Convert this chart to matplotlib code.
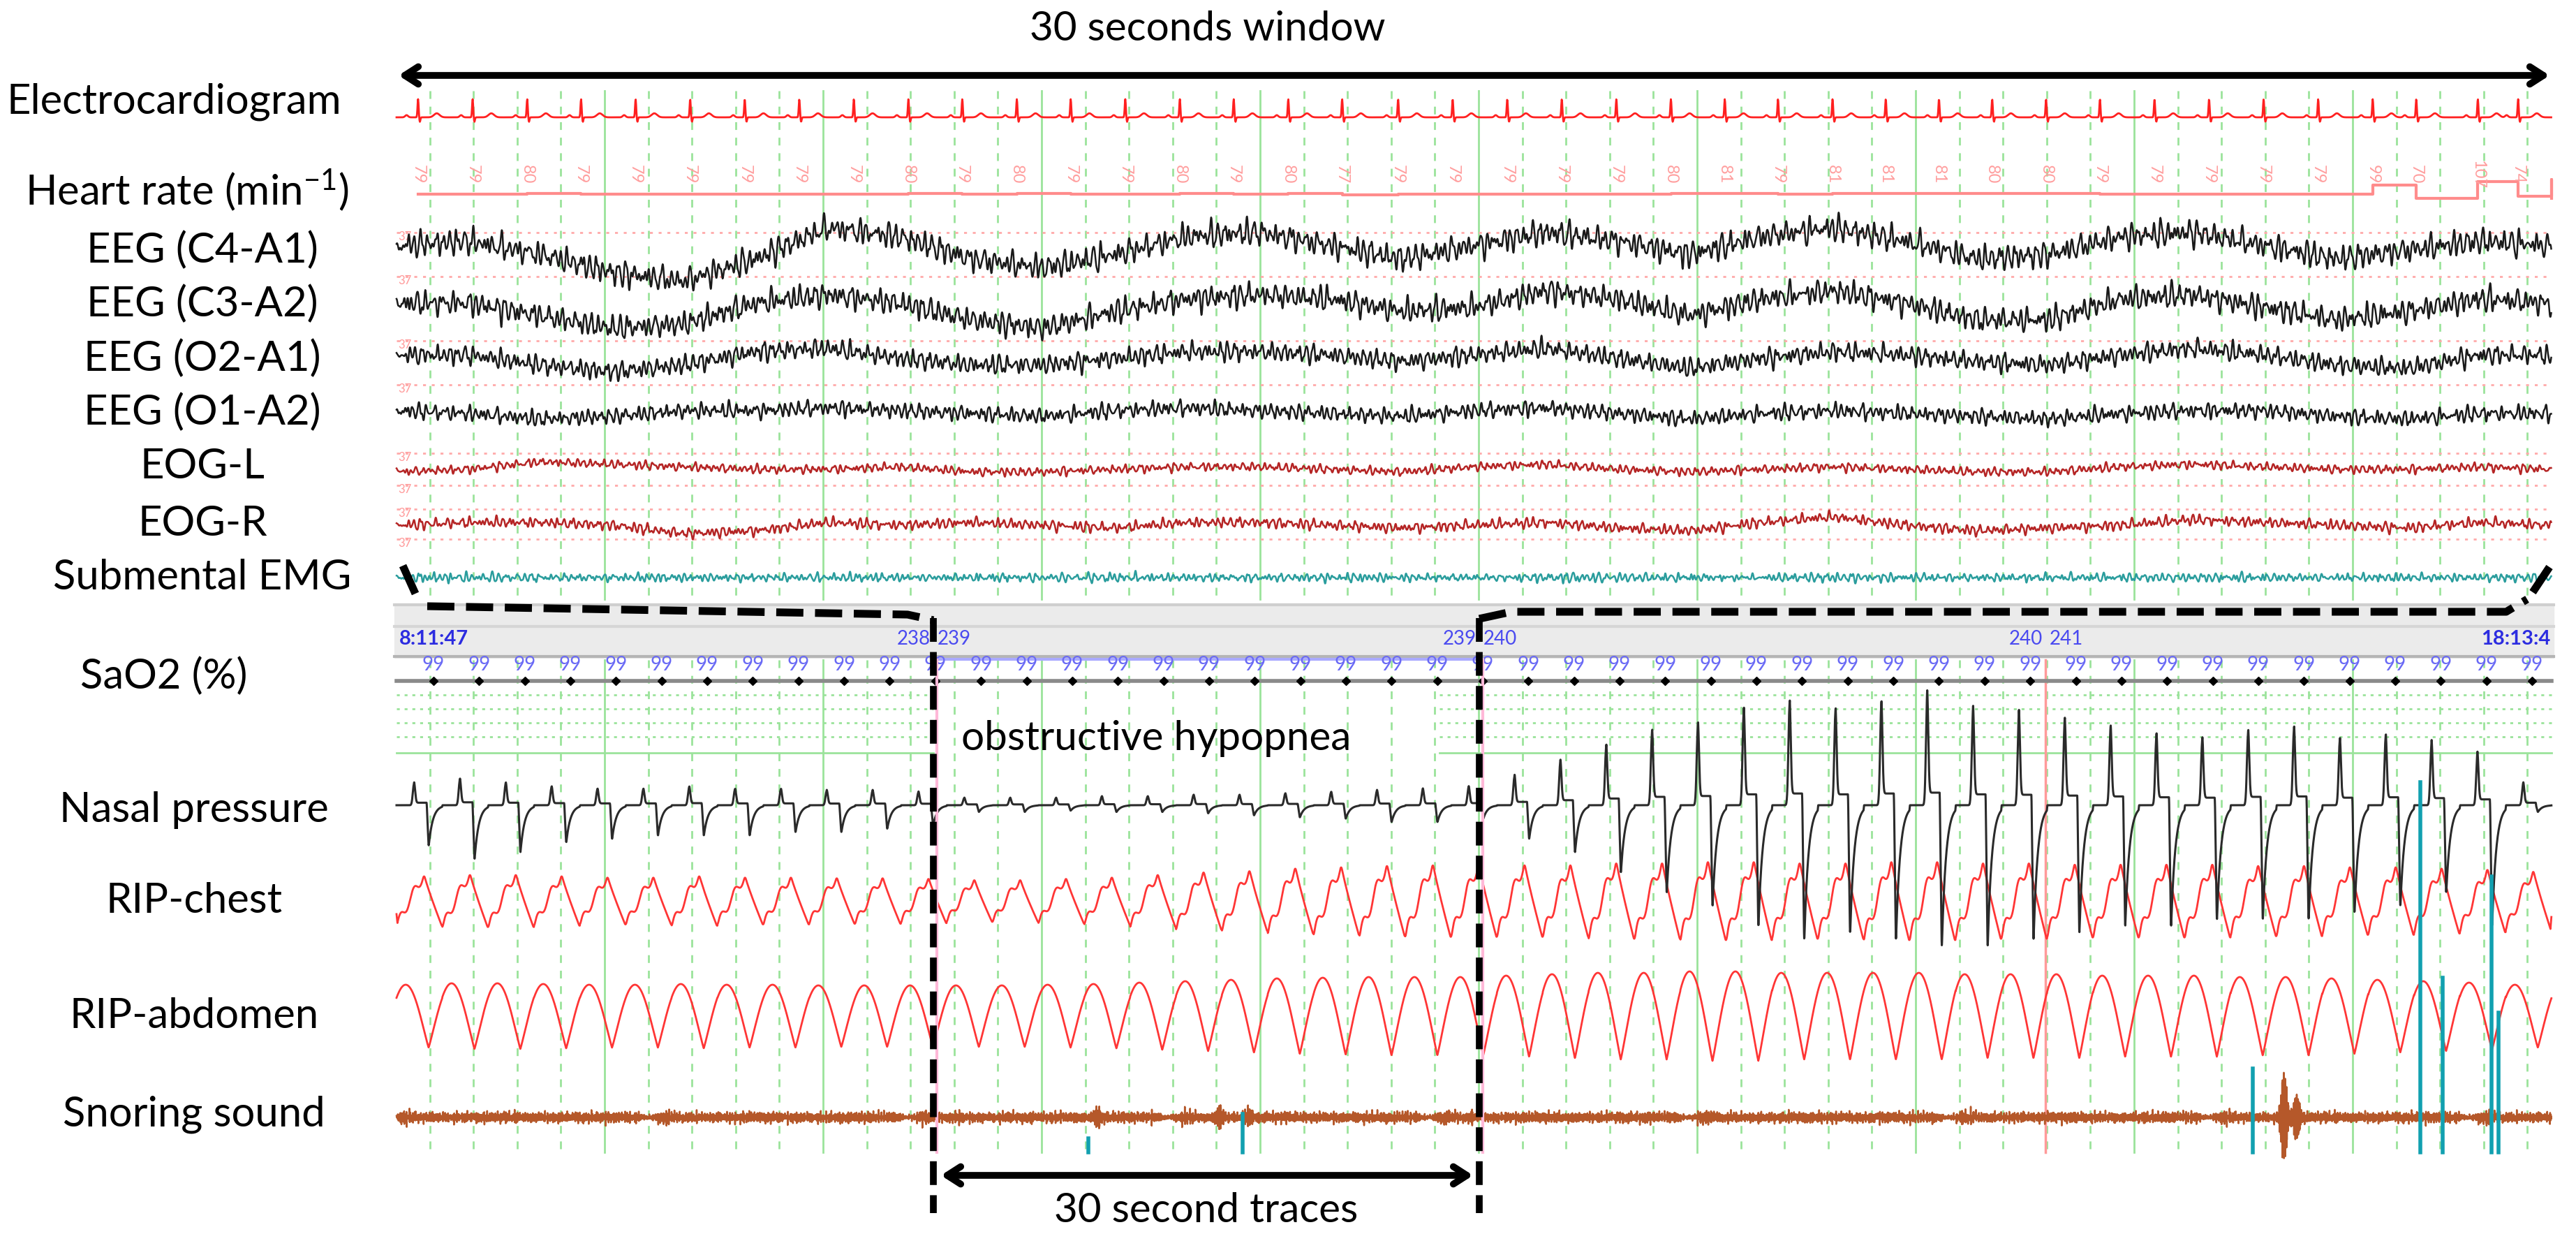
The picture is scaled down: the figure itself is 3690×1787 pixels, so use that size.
import numpy as np
import matplotlib.pyplot as plt

plt.rcParams['font.family'] = ['Lato', 'DejaVu Sans']
plt.rcParams['mathtext.default'] = 'regular'

# ---- data ----
# heart rate shown above each ECG beat (min-1)
hr_values = [79, 79, 80, 79, 79, 79, 79, 79, 79, 80, 79, 80, 79, 79, 80, 79, 80, 77, 79, 79, 79,
             79, 79, 80, 81, 79, 81, 81, 81, 80, 80, 79, 79, 79, 79, 79, 99, 70, 107, 74, 111, 70]
sao2_values = [99] * 47
# slow EEG/EOG drift, one value per second (arbitrary units, up positive)
slow_c4 = [2, 4, -2, -10, -14, -4, 10, 6, -4, -8, -2, 6, 8, 2, -4, 2, 8, 4, -2, 6, 10, 4, -4, -2, 6, 8, 2, -4, 0, 4, 2]
slow_c3 = [2, 2, -4, -10, -8, 2, 6, 2, -6, -10, -2, 4, 6, 4, -2, 0, 8, 4, -4, 4, 8, 2, -6, -6, 4, 6, 0, -6, -2, 4, 2]
slow_o2 = [2, 2, -4, -8, -4, 4, 6, 0, -4, -4, 0, 4, 4, 2, -2, 2, 6, 0, -6, 0, 4, 2, -2, -4, 2, 6, 2, -4, -6, 2, 2]
slow_o1 = [2, 0, -4, -2, 2, 2, 4, 2, 0, -2, 2, 4, 2, 0, -2, 2, 4, 0, -4, 0, 2, 0, -2, -4, 0, 2, 2, -2, -4, 0, 0]
slow_eogl = [-2, 0, 6, 4, 2, 0, 0, 2, -2, -2, 0, 2, 2, 0, -2, 2, 4, 0, -2, 0, 2, 0, -2, -2, 2, 4, 2, 0, 0, 2, 0]
slow_eogr = [0, 2, 2, 0, -6, -4, 2, 0, 2, 0, -2, 2, 2, 0, -2, 0, 2, -2, -4, 2, 6, 0, -4, -2, 0, 4, 2, 0, -2, 2, 0]
# per breath amplitudes (47 breaths over the lower 118 s trace)
nasal_up = [30, 35, 30, 25, 22, 22, 25, 22, 22, 20, 20, 18,
            10, 10, 10, 12, 12, 14, 14, 16, 18, 20, 22, 25,
            40, 60, 80, 100, 110, 130, 140, 130, 140, 150, 130, 125, 115, 105, 95, 90, 100, 105, 90, 95, 85, 70, 30]
nasal_dn = [60, 80, 70, 55, 50, 45, 45, 45, 40, 40, 35, 30,
            10, 10, 8, 10, 10, 12, 15, 18, 20, 25, 25, 20,
            50, 70, 100, 130, 150, 180, 200, 190, 200, 210, 210, 200, 190, 180, 180, 170, 170, 170, 160, 150, 130, 180, 10]
chest_amp = [38, 40, 40, 38, 36, 36, 38, 36, 36, 35, 35, 34,
             32, 32, 34, 36, 40, 44, 46, 50, 52, 54, 55, 55,
             55, 55, 58, 58, 60, 60, 58, 58, 60, 60, 58, 58, 56, 56, 56, 56, 54, 54, 52, 52, 50, 48, 45]
abdo_amp = [45, 47, 47, 46, 45, 45, 46, 45, 45, 44, 44, 44,
            44, 44, 45, 46, 48, 50, 52, 54, 55, 56, 56, 56,
            58, 60, 62, 62, 64, 64, 62, 62, 62, 62, 60, 60, 60, 58, 58, 58, 56, 56, 54, 52, 50, 48, 45]
# snoring events: (time s, size) bursts, and teal spikes (time s, height)
snore_bursts = [(31.0, 8), (38.5, 12), (45.2, 14), (46.8, 10), (59.0, 6), (103.7, 60), (104.4, 35)]
teal_spikes = [(38.0, 20), (46.5, 55), (102.0, 120), (111.2, 530), (112.4, 250), (115.1, 395), (115.5, 200)]
labels = ['Electrocardiogram', 'Heart rate (min$^{-1}$)', 'EEG (C4-A1)', 'EEG (C3-A2)', 'EEG (O2-A1)',
          'EEG (O1-A2)', 'EOG-L', 'EOG-R', 'Submental EMG', 'SaO2 (%)', 'Nasal pressure', 'RIP-chest',
          'RIP-abdomen', 'Snoring sound']

# ---- figure in pixel coordinates ----
W, H = 3691, 1787
fig = plt.figure(figsize=(W / 100, H / 100), dpi=100)
ax = fig.add_axes([0, 0, 1, 1])
ax.set_xlim(0, W)
ax.set_ylim(H, 0)
ax.axis('off')

X0, X1 = 568, 3655
TOP_T, BOT_T = 30.0, 118.4
def xt(t): return X0 + np.asarray(t) / TOP_T * (X1 - X0)
def xb(t): return X0 + np.asarray(t) / BOT_T * (X1 - X0)

green = '#9be39b'
# vertical grid
for k, gx in enumerate(np.arange(866 - 62.6 * 4, X1 + 1, 62.6)):
    if gx < X0:
        continue
    solid = (k % 5 == 4)
    for (ya, yb) in [(130, 858), (945, 1650)]:
        ax.plot([gx, gx], [ya, yb], color=green, lw=2, ls='-' if solid else (0, (4, 4)), zorder=1)

# red dotted reference lines + "37"
for ry in [333, 396, 488, 551, 649, 695, 729, 772]:
    ax.plot([X0, X1], [ry, ry], color='#ffaaaa', lw=2, ls=(0, (1.5, 3)), zorder=1)
    ax.text(X0 + 2, ry + 6, '37', color='#ff9999', fontsize=12, va='center')

# ECG
fs = 200
t = np.arange(0, TOP_T, 1 / fs)
beats = 0.3 + np.concatenate([[0], np.cumsum(60.0 / np.array(hr_values[:-1]))])
ecg = np.zeros_like(t)
for b in beats:
    d = t - b
    ecg += (0.12 * np.exp(-(d + 0.16) ** 2 / 0.0008) + 1.0 * np.exp(-d ** 2 / 0.00012)
            - 0.25 * np.exp(-(d - 0.025) ** 2 / 0.0001) + 0.22 * np.exp(-(d - 0.26) ** 2 / 0.003))
ax.plot(xt(t), 168 - 26 * ecg, color='#ff2020', lw=2, zorder=3)

# heart rate line and labels
hr = np.array(hr_values, float)
ax.step(xt(np.clip(beats, 0, TOP_T)), 278 - (hr - 79) * 0.65, where='post', color='#ff8c8c', lw=3, zorder=3)
for b, v in zip(beats, hr_values):
    if b < TOP_T:
        ax.text(xt(b), 250, str(v), rotation=270, color='#ff9e9e', fontsize=17, ha='center', va='center')

# EEG / EOG / EMG
freqs = np.array([5.3, 7.9, 9.7, 12.1, 15.4, 19.8, 24.3])
amps = np.array([0.5, 0.7, 1.0, 0.8, 0.6, 0.45, 0.35])
def fast(seed):
    ph = (np.arange(len(freqs)) * 1.7 + seed * 2.3) % (2 * np.pi)
    sig = np.zeros_like(t)
    for f, a, p in zip(freqs, amps, ph):
        sig += a * np.sin(2 * np.pi * f * t * (1 + 0.013 * seed) + p) * (1 + 0.5 * np.sin(2 * np.pi * 0.23 * (seed + 1) * t + p))
    return sig / amps.sum()
tk = np.arange(31)
chans = [(slow_c4, 358, 3.2, 30, '#1a1a1a', 1), (slow_c3, 440, 3.0, 28, '#1a1a1a', 2),
         (slow_o2, 513, 2.4, 22, '#1a1a1a', 3), (slow_o1, 592, 2.0, 18, '#1a1a1a', 4),
         (slow_eogl, 672, 1.8, 10, '#b52525', 5), (slow_eogr, 752, 2.0, 12, '#b52525', 6)]
for slow, cy, sa, fa, col, s in chans:
    sl = np.interp(t, tk, slow)
    sl = np.convolve(sl, np.ones(40) / 40, 'same')
    ax.plot(xt(t), cy - sa * sl - fa * fast(s), color=col, lw=1.8, zorder=3)
ax.plot(xt(t), 827 - 9 * fast(9) - 4 * fast(11), color='#2a9d9d', lw=1.8, zorder=3)

# grey time band
ax.add_patch(plt.Rectangle((X0 - 3, 864), X1 - X0 + 6, 78, color='#ebebeb', zorder=2))
for gy, c in [(866, '#cfcfcf'), (897, '#d6d6d6'), (940, '#b5b5b5')]:
    ax.plot([X0 - 3, X1 + 3], [gy, gy], color=c, lw=3, zorder=2)
ax.plot([1337, 2119], [944, 944], color='#aaaaff', lw=3, zorder=2)
blue = '#4a4af0'
ax.text(X0 + 4, 915, '8:11:47', color='#2c2ce0', fontsize=21, fontweight='bold', va='center', zorder=4)
ax.text(X1 - 2, 915, '18:13:4', color='#2c2ce0', fontsize=21, fontweight='bold', va='center', ha='right', zorder=4)
for xx, a, b in [(1337, '238', '239'), (2119, '239', '240'), (2930, '240', '241')]:
    ax.text(xx - 4, 915, a, color=blue, fontsize=20, ha='right', va='center', zorder=4)
    ax.text(xx + 6, 915, b, color=blue, fontsize=20, ha='left', va='center', zorder=4)
ax.plot([2930, 2930], [945, 1650], color='#ff9a9a', lw=2.5, zorder=2)

# SaO2
ax.plot([X0, X1], [975, 975], color='#8a8a8a', lw=4, zorder=2)
sx = np.linspace(621, 3627, len(sao2_values))
for x_, v in zip(sx, sao2_values):
    ax.text(x_, 952, str(v), color='#6a6af5', fontsize=20, ha='center', va='center', zorder=4)
ax.plot(sx, [975] * len(sx), 'D', color='k', ms=6, zorder=4)
for gy in [995, 1015, 1035, 1055]:
    ax.plot([X0, 1337], [gy, gy], color=green, lw=2, ls=(0, (1.5, 2.5)), zorder=1)
    ax.plot([2062, X1], [gy, gy], color=green, lw=2, ls=(0, (1.5, 2.5)), zorder=1)
ax.plot([X0, 1337], [1078, 1078], color=green, lw=2, zorder=1)
ax.plot([2062, X1], [1078, 1078], color=green, lw=2, zorder=1)
ax.text(1377, 1058, 'obstructive hypopnea', fontsize=42, va='center', zorder=5)

# respiration
fsb = 100
tb = np.arange(0, BOT_T, 1 / fsb)
period = BOT_T / len(nasal_up)
k = np.minimum((tb / period).astype(int), len(nasal_up) - 1)
p = tb / period - k
up = np.array(nasal_up)[k]
dn = np.array(nasal_dn)[k]
ramp = np.clip((p - 0.66) / 0.04, 0, 1)
nasal = (up * np.exp(-((p - 0.38) / 0.035) ** 2) + 0.12 * up * (p > 0.38) * (p < 0.66)
         - dn * ramp * np.exp(-np.clip(p - 0.70, 0, None) / 0.09))
nasal = np.convolve(nasal, np.ones(3) / 3, 'same')
ax.plot(xb(tb), 1153 - nasal, color='#2a2a2a', lw=2.2, zorder=3)
# chest: slow rise with a notch, quicker fall
rise = -1 + 2 * np.clip(p / 0.6, 0, 1) ** 0.9 + 0.2 * np.sin(2 * np.pi * p / 0.3) * (p < 0.6)
fall = 1 - 2 * np.clip((p - 0.6) / 0.4, 0, 1) ** 0.9
chest = np.where(p < 0.6, rise, fall)
chest = np.convolve(chest, np.ones(11) / 11, 'same') * np.array(chest_amp)[k]
ax.plot(xb(tb), 1290 - chest, color='#ff3535', lw=2, zorder=2)
abdo = np.array(abdo_amp)[k] * (2 * np.abs(np.cos(np.pi * (p - 0.2))) ** 1.1 - 1)
ax.plot(xb(tb), 1455 - abdo, color='#ff3535', lw=2, zorder=2)

# snoring
sn = np.zeros_like(tb)
for i, f in enumerate([17.3, 23.9, 31.1, 37.7, 44.3, 48.1, 29.3, 41.9]):
    sn += np.sin(2 * np.pi * f * tb + i * 1.3) * (0.6 + 0.4 * np.sin(2 * np.pi * (0.21 + 0.07 * i) * tb))
sn *= 2.6
for bt, ba in snore_bursts:
    sn += ba * np.exp(-((tb - bt) / 0.22) ** 2) * np.sin(2 * np.pi * 43.7 * tb)
ax.plot(xb(tb), 1600 - sn, color='#b5582a', lw=1.8, zorder=3)
for st, sh in teal_spikes:
    ax.plot([xb(st), xb(st)], [1650 - sh, 1650], color='#12a0b0', lw=4, zorder=4)

# black annotation marks
dash = (0, (3.5, 1.5))
for vx in (1337, 2119):
    ax.plot([vx + 5, vx + 5], [945, 1650], color='#ffb8d8', lw=3, zorder=4)
    ax.plot([vx, vx], [885, 1737], color='k', lw=7, ls=dash, zorder=5)
ax.plot([577, 595], [810, 850], color='k', lw=8, solid_capstyle='butt', zorder=5)
ax.plot([612, 1300, 1337], [868, 880, 888], color='k', lw=8, ls=dash, zorder=5)
ax.plot([2119, 2165, 3590, 3620], [886, 876, 876, 858], color='k', lw=8, ls=dash, zorder=5)
ax.plot([3628, 3652], [848, 812], color='k', lw=8, solid_capstyle='butt', zorder=5)
ax.annotate('', xy=(X0, 108), xytext=(X1, 108),
            arrowprops=dict(arrowstyle='<->,head_length=1.4,head_width=0.9', lw=7, color='k'))
ax.text(1730, 42, '30 seconds window', fontsize=42, ha='center', va='center')
ax.annotate('', xy=(1345, 1683), xytext=(2113, 1683),
            arrowprops=dict(arrowstyle='<->,head_length=1.4,head_width=0.9', lw=7, color='k'))
ax.text(1728, 1734, '30 second traces', fontsize=42, ha='center', va='center')

# channel labels
lab_pos = [(10, 146, 'left'), (36, 273, 'left'), (290, 358, 'center'), (290, 435, 'center'),
           (290, 513, 'center'), (290, 590, 'center'), (290, 668, 'center'), (290, 750, 'center'),
           (290, 827, 'center'), (235, 968, 'center'), (278, 1160, 'center'), (278, 1290, 'center'),
           (278, 1455, 'center'), (278, 1596, 'center')]
for (lx, ly, ha), s in zip(lab_pos, labels):
    ax.text(lx, ly, s, fontsize=43, ha=ha, va='center')

fig.savefig('out.png', dpi=100)
